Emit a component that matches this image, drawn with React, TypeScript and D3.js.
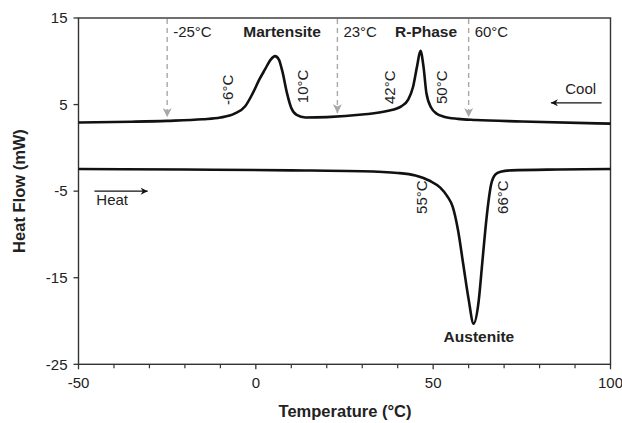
import React from "react";
import * as d3 from "d3";

const coolTemp = [-50, -35, -25, -15, -10, -6, -3, -1, 1, 2.5, 4.2, 5.4, 6.5, 7.5, 8.8, 10, 11.5, 14, 20, 30, 37, 41, 43, 44.3, 45.5, 46.4, 47.3, 48.1, 49.5, 51, 53, 57, 62, 75, 100];
const coolFlow = [2.93, 3.02, 3.12, 3.3, 3.5, 3.95, 4.8, 6.2, 7.9, 9.0, 10.2, 10.6, 10.2, 8.8, 6.3, 4.6, 3.8, 3.5, 3.55, 3.85, 4.25, 4.8, 5.6, 7.0, 9.5, 11.2, 9.3, 6.3, 4.6, 3.95, 3.6, 3.35, 3.22, 3.05, 2.8];

const heatTemp = [-50, -20, 10, 30, 40, 45, 49, 52, 54, 55.5, 57, 58.5, 60, 61.4, 62.8, 63.8, 64.7, 65.5, 66.3, 67.5, 69, 72, 85, 100];
const heatFlow = [-2.45, -2.5, -2.6, -2.7, -2.9, -3.2, -3.8, -4.6, -5.6, -6.8, -9.5, -13.5, -17.5, -20.3, -17.8, -13.5, -9.5, -6.5, -4.3, -3.1, -2.75, -2.6, -2.5, -2.45];

const xMajorTicks = [-50, 0, 50, 100];
const xMinorTicks = [-40, -30, -20, -10, 10, 20, 30, 40, 60, 70, 80, 90];
const yTicks = [15, 5, -5, -15, -25];

const markerTemps = [-25, 23, 60];
const markerTips = [3.55, 4.0, 3.55];
const markerLabels = ["-25°C", "23°C", "60°C"];

const onsetLabels = ["-6°C", "10°C", "42°C", "50°C", "55°C", "66°C"];
const onsetTemps = [-7.95, 13.2, 37.8, 52.4, 46.8, 69.7];
const onsetFlows = [6.7, 7.1, 7.0, 7.0, -5.7, -5.7];

const peakLabels = ["Martensite", "R-Phase", "Austenite"];
const peakTemps = [7.4, 48.0, 62.9];
const peakFlows = [12.8, 12.8, -22.4];

const W = 622;
const H = 423;
const left = 78.5;
const right = 610.5;
const top = 18;
const bottom = 364.3;

export default function App() {
  const x = d3.scaleLinear().domain([-50, 100]).range([left, right]);
  const y = d3.scaleLinear().domain([-25, 15]).range([bottom, top]);
  const lineGen = d3
    .line<[number, number]>()
    .x((d) => x(d[0]))
    .y((d) => y(d[1]))
    .curve(d3.curveMonotoneX);
  const coolPath = lineGen(coolTemp.map((t, i) => [t, coolFlow[i]] as [number, number]));
  const heatPath = lineGen(heatTemp.map((t, i) => [t, heatFlow[i]] as [number, number]));

  const font = "Arial, 'Liberation Sans', Helvetica, sans-serif";
  const axisColor = "#333";

  return (
    <svg
      width={W}
      height={H}
      style={{ position: "absolute", left: 0, top: 0, background: "#fff" }}
      fontFamily={font}
    >
      <defs>
        <marker id="grayHead" viewBox="0 0 10 10" refX="10" refY="5" markerWidth="9" markerHeight="9" markerUnits="userSpaceOnUse" orient="auto">
          <path d="M0,0 L10,5 L0,10 L2.5,5 Z" fill="#a8a8a8" />
        </marker>
        <marker id="blackHead" viewBox="0 0 10 10" refX="10" refY="5" markerWidth="9" markerHeight="7" markerUnits="userSpaceOnUse" orient="auto">
          <path d="M0,0 L10,5 L0,10 L3,5 Z" fill="#111" />
        </marker>
      </defs>

      {/* frame */}
      <rect x={left} y={top} width={right - left} height={bottom - top} fill="none" stroke={axisColor} strokeWidth={1.4} />

      {/* y ticks */}
      {yTicks.map((v) => (
        <g key={"y" + v}>
          <line x1={left - 5} x2={left} y1={y(v)} y2={y(v)} stroke={axisColor} strokeWidth={1.3} />
          <text x={left - 11} y={y(v)} dy="0.35em" textAnchor="end" fontSize={15} fill="#222">
            {v}
          </text>
        </g>
      ))}

      {/* x ticks */}
      {xMajorTicks.map((v) => (
        <g key={"x" + v}>
          <line x1={x(v)} x2={x(v)} y1={bottom} y2={bottom + 5} stroke={axisColor} strokeWidth={1.3} />
          <text x={x(v)} y={bottom + 24} textAnchor="middle" fontSize={15} fill="#222">
            {v}
          </text>
        </g>
      ))}
      {xMinorTicks.map((v) => (
        <line key={"xm" + v} x1={x(v)} x2={x(v)} y1={bottom} y2={bottom + 4} stroke={axisColor} strokeWidth={1.2} />
      ))}

      {/* axis titles */}
      <text x={345} y={417} textAnchor="middle" fontSize={16.5} fontWeight="bold" fill="#222">
        Temperature (°C)
      </text>
      <text transform={`translate(25,191) rotate(-90)`} textAnchor="middle" fontSize={16.5} fontWeight="bold" fill="#222">
        Heat Flow (mW)
      </text>

      {/* gray dashed markers */}
      {markerTemps.map((t, i) => (
        <g key={"m" + t}>
          <line
            x1={x(t)}
            x2={x(t)}
            y1={top + 1}
            y2={y(markerTips[i])}
            stroke="#a8a8a8"
            strokeWidth={1.4}
            strokeDasharray="5,4"
            markerEnd="url(#grayHead)"
          />
          <text x={x(t) + 6} y={37} fontSize={15} fill="#222">
            {markerLabels[i]}
          </text>
        </g>
      ))}

      {/* curves */}
      <path d={coolPath || ""} fill="none" stroke="#111" strokeWidth={2.6} strokeLinejoin="round" />
      <path d={heatPath || ""} fill="none" stroke="#111" strokeWidth={2.6} strokeLinejoin="round" />

      {/* onset labels */}
      {onsetLabels.map((s, i) => (
        <text
          key={s}
          transform={`translate(${x(onsetTemps[i])},${y(onsetFlows[i])}) rotate(-90)`}
          textAnchor="middle"
          dy="0.35em"
          fontSize={15}
          fill="#222"
        >
          {s}
        </text>
      ))}

      {/* peak labels */}
      {peakLabels.map((s, i) => (
        <text key={s} x={x(peakTemps[i])} y={y(peakFlows[i])} textAnchor="middle" fontSize={15.5} fontWeight="bold" fill="#222">
          {s}
        </text>
      ))}

      {/* Cool / Heat arrows */}
      <line x1={x(97.5)} x2={x(83.2)} y1={y(5.2)} y2={y(5.2)} stroke="#111" strokeWidth={1.3} markerEnd="url(#blackHead)" />
      <text x={x(91.6)} y={y(6.2)} textAnchor="middle" fontSize={15} fill="#222">
        Cool
      </text>
      <line x1={x(-45.5)} x2={x(-30.5)} y1={y(-5)} y2={y(-5)} stroke="#111" strokeWidth={1.3} markerEnd="url(#blackHead)" />
      <text x={x(-40.5)} y={y(-6.6)} textAnchor="middle" fontSize={15} fill="#222">
        Heat
      </text>
    </svg>
  );
}
